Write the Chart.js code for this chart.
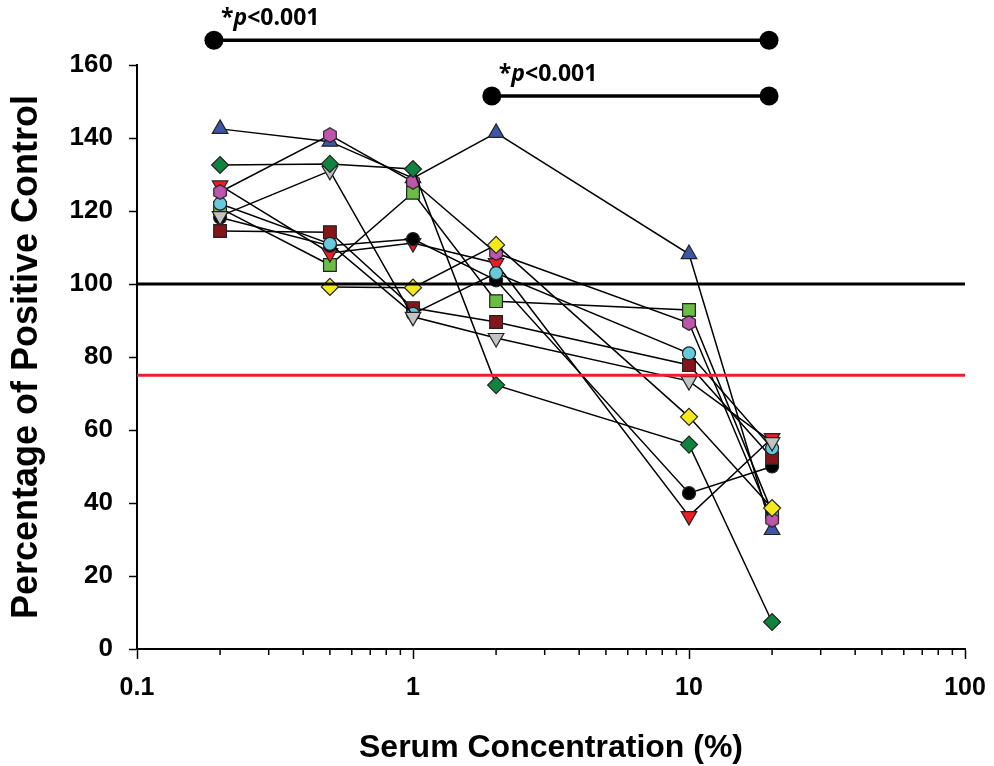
<!DOCTYPE html>
<html>
<head>
<meta charset="utf-8">
<script src="https://cdn.jsdelivr.net/npm/chart.js@4.4.1/dist/chart.umd.min.js"></script>
<style>
  body { margin: 0; background: #fff; }
  #wrap { width: 994px; height: 766px; }
</style>
</head>
<body>
<div id="wrap"><canvas id="serumChart"></canvas></div>
<script>
// concentraciones de suero (%)
const concentraciones = [0.2, 0.5, 1, 2, 10, 20];

// % del control positivo por muestra
const azul      = [142.5, 139.0, 129.0, 141.4, 108.2, 32.6];
const magenta   = [125.2, 140.8, 128.0, 108.5, 89.3, 35.4];
const verdeOsc  = [132.6, 132.9, 131.5, 72.3, 56.0, 7.4];
const rojo      = [127.0, 108.5, 111.2, 105.7, 36.4, 57.8];
const celeste   = [122.0, 111.0, 91.8, 103.0, 81.0, 55.0];
const verdeClaro = [120.8, 105.2, 125.0, 95.3, 92.9, 37.5];
const negro     = [118.2, 110.5, 112.3, 101.0, 42.7, 50.0];
const gris      = [118.6, 131.0, 91.0, 85.2, 73.4, 56.7];
const bordo     = [114.5, 114.2, 93.4, 89.6, 77.8, 52.3];
const amarillo  = [null, 99.2, 99.0, 110.7, 63.6, 38.6];

// lineas de referencia
const refPositivo = 100;
const refCorte = 75;
const rangoX = [0.1, 100];

// barras de significancia
const sig1x = [0.19, 19.5];
const sig1y = 166.8;
const sig2x = [1.93, 19.5];
const sig2y = 151.5;
const sigTexto = ['*', 'p', '<0.001'];

// ticks del eje x
const ticksMayores = [0.1, 1, 10, 100];
const ticksMenores = [0.2, 0.3, 0.4, 0.5, 0.6, 0.7, 0.8, 0.9, 2, 3, 4, 5, 6, 7, 8, 9, 20, 30, 40, 50, 60, 70, 80, 90];

function hexagono(color) {
    const c = document.createElement('canvas');
    c.width = 16; c.height = 16;
    const g = c.getContext('2d');
    g.beginPath();
    for (let i = 0; i < 6; i++) {
        const a = (-90 + i * 60) * Math.PI / 180;
        const px = 8 + 7.3 * Math.cos(a), py = 8 + 7.3 * Math.sin(a);
        if (i === 0) g.moveTo(px, py); else g.lineTo(px, py);
    }
    g.closePath();
    g.fillStyle = color;
    g.fill();
    g.lineWidth = 1.2;
    g.strokeStyle = '#222';
    g.stroke();
    return c;
}

function puntos(valores) {
    return concentraciones
        .map((x, i) => ({ x: x, y: valores[i] }))
        .filter(p => p.y !== null);
}

function serie(valores, color, estilo, radio, rotacion, orden) {
    return {
        data: puntos(valores),
        borderColor: '#000',
        borderWidth: 1.5,
        pointStyle: estilo,
        pointRadius: radio,
        pointRotation: rotacion,
        pointBackgroundColor: color,
        pointBorderColor: '#222',
        pointBorderWidth: 1.2,
        order: orden
    };
}

function refLinea(valor, color) {
    return {
        data: rangoX.map(x => ({ x: x, y: valor })),
        borderColor: color,
        borderWidth: 3,
        pointRadius: 0,
        order: 0
    };
}

function sigBarra(xs, y) {
    return {
        data: xs.map(x => ({ x: x, y: y })),
        borderColor: '#000',
        borderWidth: 3.5,
        pointRadius: 0,
        clip: false,
        order: 0,
        esSig: true
    };
}

// puntos y textos de significancia, ticks menores
const extras = {
    id: 'extras',
    afterDraw(chart) {
        const c = chart.ctx;
        const sx = chart.scales.x, sy = chart.scales.y;
        c.save();
        c.strokeStyle = '#000';
        c.lineWidth = 1.5;
        ticksMenores.forEach(v => {
            const px = sx.getPixelForValue(v);
            c.beginPath();
            c.moveTo(px, sy.bottom);
            c.lineTo(px, sy.bottom + 6);
            c.stroke();
        });
        chart.data.datasets.forEach((ds, i) => {
            if (!ds.esSig) return;
            chart.getDatasetMeta(i).data.forEach(p => {
                c.beginPath();
                c.arc(p.x, p.y, 9.5, 0, Math.PI * 2);
                c.fillStyle = '#000';
                c.fill();
            });
        });
        const escribir = (xv, yv) => {
            let px = sx.getPixelForValue(xv) + 7;
            const py = sy.getPixelForValue(yv) - 15;
            c.fillStyle = '#000';
            c.textBaseline = 'alphabetic';
            const fuentes = ['bold 23px "Open Sans"', 'italic bold 23px "Open Sans"', 'bold 23px "Open Sans"'];
            sigTexto.forEach((t, i) => {
                c.font = fuentes[i];
                c.fillText(t, px, py);
                px += c.measureText(t).width;
            });
        };
        escribir(sig1x[0], sig1y);
        escribir(sig2x[0], sig2y);
        c.restore();
    }
};

const ctx = document.getElementById('serumChart').getContext('2d');
const serumChart = new Chart(ctx, {
    type: 'line',
    data: {
        datasets: [
            refLinea(refPositivo, '#000'),
            refLinea(refCorte, '#EE2024'),
            sigBarra(sig1x, sig1y),
            sigBarra(sig2x, sig2y),
            serie(verdeOsc, '#10833F', 'rectRot', 8.5, 0, 1),
            serie(amarillo, '#F4EA1B', 'rectRot', 8.5, 0, 2),
            serie(magenta, '#BE56AE', hexagono('#BE56AE'), 8, 0, 3),
            serie(azul, '#3D57A6', 'triangle', 9, 0, 4),
            serie(gris, '#C3C3C3', 'triangle', 9, 180, 5),
            serie(celeste, '#66CADB', 'circle', 6.5, 0, 6),
            serie(bordo, '#85151A', 'rect', 9, 0, 7),
            serie(negro, '#000', 'circle', 6.5, 0, 8),
            serie(rojo, '#EE1C24', 'triangle', 9, 180, 9),
            serie(verdeClaro, '#6BBD45', 'rect', 9, 0, 10)
        ]
    },
    options: {
        responsive: true,
        maintainAspectRatio: false,
        animation: false,
        layout: { padding: { top: 65, right: 29, left: 0, bottom: 2 } },
        plugins: {
            legend: { display: false },
            tooltip: { enabled: false }
        },
        scales: {
            x: {
                type: 'logarithmic',
                min: 0.1,
                max: 100,
                afterBuildTicks: scale => {
                    scale.ticks = ticksMayores.map(v => ({ value: v, major: true }));
                },
                afterFit: scale => { scale.paddingLeft = 0; scale.paddingRight = 0; },
                ticks: {
                    color: '#000',
                    font: { family: '"Liberation Sans", Arial', size: 25, weight: 'bold', lineHeight: 1 },
                    padding: 17,
                    maxRotation: 0,
                    callback: v => String(v)
                },
                grid: { drawOnChartArea: false, tickLength: 10, tickColor: '#000', tickWidth: 1.5 },
                border: { color: '#000', width: 2 },
                title: {
                    display: true,
                    text: 'Serum Concentration (%)',
                    color: '#000',
                    font: { family: '"Liberation Sans", Arial', size: 32, weight: 'bold', lineHeight: 1 },
                    padding: { top: 14, bottom: 0 }
                }
            },
            y: {
                min: 0,
                max: 160,
                afterFit: scale => { scale.width = 137; },
                ticks: {
                    stepSize: 20,
                    color: '#000',
                    font: { family: '"Liberation Sans", Arial', size: 26, weight: 'bold' },
                    padding: 16
                },
                grid: { drawOnChartArea: false, tickLength: 8, tickColor: '#000', tickWidth: 1.5 },
                border: { color: '#000', width: 2 },
                title: {
                    display: true,
                    text: 'Percentage of Positive Control',
                    color: '#000',
                    font: { family: '"Liberation Sans", Arial', size: 36, weight: 'bold' },
                    padding: { top: 5, bottom: 10 }
                }
            }
        }
    },
    plugins: [extras]
});
</script>
</body>
</html>
